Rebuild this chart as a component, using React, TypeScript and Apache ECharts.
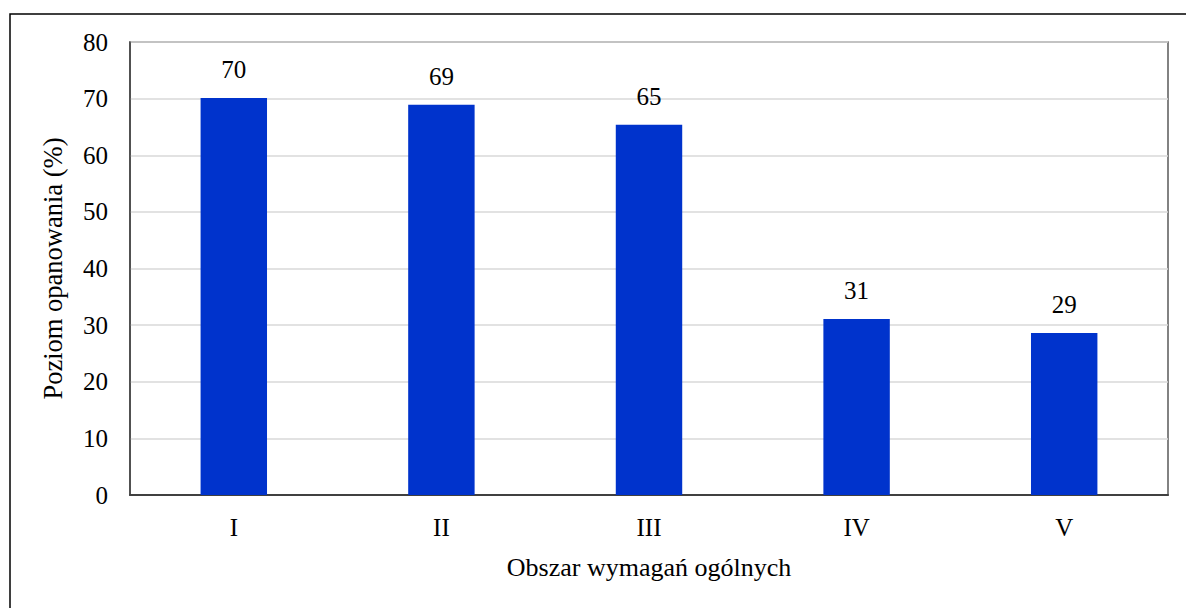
import React, { useEffect, useRef } from "react";
import * as echarts from "echarts";

const categories: string[] = ["I", "II", "III", "IV", "V"];
const values: number[] = [70.1, 68.9, 65.4, 31.1, 28.6];
const yMin = 0;
const yMax = 80;
const yInterval = 10;
const xAxisName = "Obszar wymagań ogólnych";
const yAxisName = "Poziom opanowania (%)";

const FONT = "Liberation Serif";

export default function App() {
  const ref = useRef<HTMLDivElement>(null);
  useEffect(() => {
    if (!ref.current) return;
    const chart = echarts.init(ref.current, undefined, { renderer: "svg" });
    chart.setOption({
      animation: false,
      backgroundColor: "#ffffff",
      textStyle: { fontFamily: FONT },
      graphic: [
        {
          type: "rect",
          shape: { x: 10, y: 14, width: 1300, height: 700 },
          style: { fill: "none", stroke: "#000000", lineWidth: 1.5 },
          silent: true,
        },
      ],
      grid: {
        left: 130,
        top: 42,
        right: 18,
        bottom: 113,
        show: true,
        borderColor: "#595959",
        borderWidth: 1.5,
        containLabel: false,
      },
      xAxis: {
        type: "category",
        data: categories,
        name: xAxisName,
        nameLocation: "middle",
        nameGap: 59,
        nameTextStyle: { fontFamily: FONT, fontSize: 26, color: "#000000" },
        axisLine: { show: true, lineStyle: { color: "#404040", width: 2 } },
        axisTick: { show: false },
        axisLabel: { fontFamily: FONT, fontSize: 25, color: "#000000", margin: 20 },
      },
      yAxis: {
        type: "value",
        min: yMin,
        max: yMax,
        interval: yInterval,
        name: yAxisName,
        nameLocation: "middle",
        nameGap: 64,
        nameTextStyle: { fontFamily: FONT, fontSize: 26.5, color: "#000000" },
        axisLine: { show: true, lineStyle: { color: "#404040", width: 1.5 } },
        axisTick: { show: false },
        axisLabel: { fontFamily: FONT, fontSize: 25, color: "#000000", margin: 22 },
        splitLine: { show: true, lineStyle: { color: "#d9d9d9", width: 1.5 } },
      },
      series: [
        {
          type: "bar",
          data: values,
          barWidth: "32%",
          itemStyle: { color: "#0033CC" },
          label: {
            show: true,
            position: "top",
            distance: 16,
            fontFamily: FONT,
            fontSize: 25,
            color: "#000000",
            formatter: (p: any) => String(Math.round(p.value)),
          },
        },
      ],
    });
    return () => chart.dispose();
  }, []);
  return (
    <div
      ref={ref}
      style={{ position: "fixed", left: 0, top: 0, width: 1186, height: 608 }}
    />
  );
}
